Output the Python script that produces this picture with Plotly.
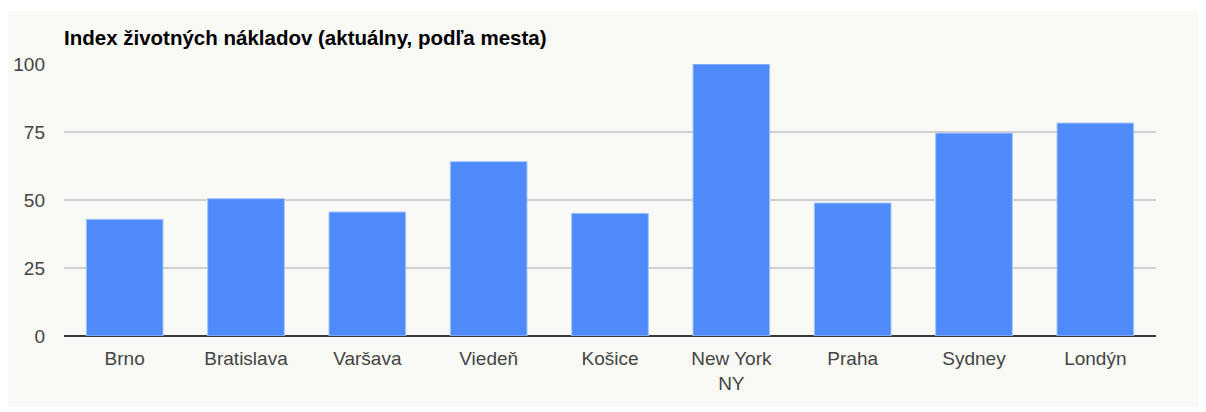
import plotly.graph_objects as go

cities = ["Brno", "Bratislava", "Varšava", "Viedeň", "Košice", "New York<br>NY", "Praha", "Sydney", "Londýn"]
index_values = [42.9, 50.5, 45.6, 64.1, 45.1, 100.0, 48.9, 74.6, 78.3]
y_ticks = [0, 25, 50, 75, 100]
title_text = "Index životných nákladov (aktuálny, podľa mesta)"

OFF = 8  # body margin of the page
W, H = 1206 - OFF, 412 - OFF
L, R, T, B = 64 - OFF, 50, 64 - OFF, 76
pw, ph = W - L - R, H - T - B

bg = "#f9f9f6"

fig = go.Figure(go.Bar(
    x=cities, y=index_values,
    marker=dict(color="#4e8af9", line=dict(color="#a8c5fb", width=1)),
    hoverinfo="x+y",
))

fig.update_layout(
    width=W, height=H,
    margin=dict(l=L, r=R, t=T, b=B, pad=0, autoexpand=False),
    paper_bgcolor="white",
    plot_bgcolor=bg,
    bargap=0.368,
    showlegend=False,
    font=dict(family="Liberation Sans, Arial, sans-serif", size=19, color="#444444"),
    title=dict(
        text="<b>" + title_text + "</b>",
        x=0, xref="paper", xanchor="left",
        y=1 - 30 / H, yref="container", yanchor="middle",
        font=dict(family="Liberation Sans, Arial, sans-serif", size=20.5, color="#000000"),
    ),
    xaxis=dict(
        showgrid=False, showline=False, zeroline=False, automargin=False,
        ticks="", tickfont=dict(size=19, color="#444444"),
        ticklabelstandoff=9,
    ),
    yaxis=dict(
        range=[0, 100], tickvals=y_ticks, ticktext=[str(v) for v in y_ticks],
        showgrid=True, gridcolor="#d0d0d0", gridwidth=1.5, automargin=False,
        zeroline=True, zerolinecolor="#3a3a3a", zerolinewidth=2,
        showline=False, ticks="", ticklabelstandoff=18,
        tickfont=dict(size=19, color="#444444"),
    ),
    shapes=[dict(
        type="rect", xref="paper", yref="paper",
        x0=(7 - 64) / pw, x1=(1206 - 64) / pw,
        y0=(336 - 407) / ph, y1=(336 - 11) / ph,
        fillcolor=bg, line=dict(width=0), layer="below",
    )],
)

fig.write_html("out.html")
